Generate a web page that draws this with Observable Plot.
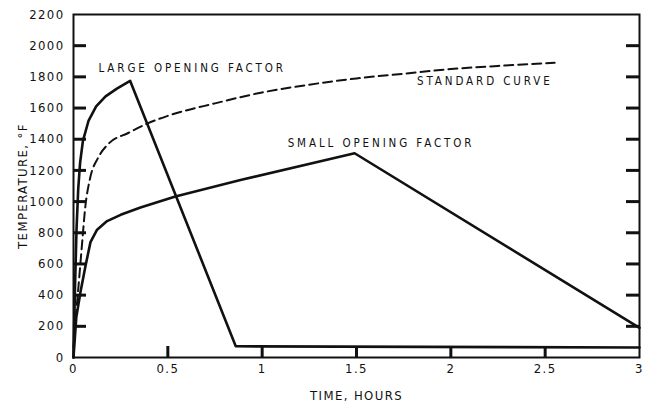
<!DOCTYPE html>
<html>
<head>
<meta charset="utf-8">
<script src="https://cdn.jsdelivr.net/npm/d3@7"></script>
<script src="https://cdn.jsdelivr.net/npm/@observablehq/plot@0.6"></script>
<style>
  html, body { margin: 0; padding: 0; background: #fff; }
  #chart svg { font-family: "DejaVu Sans Condensed", "Liberation Sans Narrow", "DejaVu Sans", sans-serif; }
  #chart svg text { letter-spacing: 1.4px; fill: #111; }
  #chart svg g[aria-label="text"] text { letter-spacing: 2.9px; }
</style>
</head>
<body>
<div id="chart"></div>
<script>
// Time (hours) and temperature (°F) for the three fire curves
const largeTime = [0, 0.008, 0.016, 0.025, 0.035, 0.05, 0.08, 0.12, 0.17, 0.23, 0.3, 0.86, 3];
const largeTemp = [0, 450, 820, 1080, 1250, 1390, 1520, 1610, 1675, 1725, 1775, 72, 64];

const smallTime = [0, 0.015, 0.037, 0.064, 0.09, 0.125, 0.178, 0.25, 0.355, 0.54, 0.885, 1.49, 3];
const smallTemp = [0, 260, 420, 590, 740, 820, 875, 915, 962, 1033, 1138, 1310, 190];

const standardTime = [0, 0.015, 0.026, 0.044, 0.062, 0.088, 0.13, 0.185, 0.29, 0.39, 0.5, 0.75, 1, 1.25, 1.5, 1.75, 2, 2.25, 2.55];
const standardTemp = [68, 300, 450, 710, 960, 1150, 1280, 1370, 1440, 1500, 1550, 1630, 1700, 1750, 1790, 1820, 1850, 1870, 1890];

// Axis ticks
const xTicks = [0, 0.5, 1, 1.5, 2, 2.5, 3];
const xTickLabels = ["0", "0.5", "1", "1.5", "2", "2.5", "3"];
const yTicks = [0, 200, 400, 600, 800, 1000, 1200, 1400, 1600, 1800, 2000, 2200];

// Curve annotations
const labelText = ["LARGE OPENING FACTOR", "STANDARD CURVE", "SMALL OPENING FACTOR"];
const labelTime = [0.132, 2.54, 1.135];
const labelTemp = [1853, 1770, 1372];
const labelAnchor = ["start", "end", "start"];

const toRows = (ts, vs) => ts.map((t, i) => ({t, v: vs[i]}));
const large = toRows(largeTime, largeTemp);
const small = toRows(smallTime, smallTemp);
const standard = toRows(standardTime, standardTemp);
const labels = labelText.map((s, i) => ({s, t: labelTime[i], v: labelTemp[i], a: labelAnchor[i]}));

const W = 649, H = 406, ML = 73, MR = 10, MT = 14, MB = 49;
const innerW = W - ML - MR, innerH = H - MT - MB;
const yTickLen = 13, xTickLen = 11;
// interior tick positions (the ends coincide with the frame)
const tickRowsY = yTicks.slice(1, -1).map((v) => ({v}));
const tickRowsX = xTicks.slice(1, -1).map((t) => ({t}));

const chart = Plot.plot({
  width: W,
  height: H,
  marginLeft: ML,
  marginRight: MR,
  marginTop: MT,
  marginBottom: MB,
  style: {fontSize: "13px", background: "#fff", color: "#111"},
  x: {domain: [0, 3]},
  y: {domain: [0, 2200]},
  marks: [
    Plot.frame({stroke: "#111", strokeWidth: 2, fill: "none"}),
    // tick labels and axis titles
    Plot.axisY({anchor: "left", ticks: yTicks, tickSize: 0, tickPadding: 9,
      tickFormat: (d) => String(d),
      label: "TEMPERATURE, °F", labelAnchor: "center", labelOffset: 56, labelArrow: "none"}),
    Plot.axisX({anchor: "bottom", ticks: xTicks, tickSize: 0, tickPadding: 6,
      tickFormat: (d) => xTickLabels[xTicks.indexOf(d)],
      label: "TIME, HOURS", labelAnchor: "center", labelOffset: 42, labelArrow: "none"}),
    // curves
    Plot.line(standard, {x: "t", y: "v", stroke: "#111", strokeWidth: 2, strokeDasharray: "9,5", curve: "monotone-x"}),
    Plot.line(large, {x: "t", y: "v", stroke: "#111", strokeWidth: 2.6, curve: "linear"}),
    Plot.line(small, {x: "t", y: "v", stroke: "#111", strokeWidth: 2.6, curve: "linear"}),
    Plot.text(labels.filter((d) => d.a === "start"), {x: "t", y: "v", text: "s", textAnchor: "start", fontSize: 11.5, fill: "#111"}),
    Plot.text(labels.filter((d) => d.a === "end"), {x: "t", y: "v", text: "s", textAnchor: "end", fontSize: 11.5, fill: "#111"}),
    // inward tick marks on the left, right and bottom edges
    Plot.tickY(tickRowsY, {y: "v", stroke: "#111", strokeWidth: 3, insetRight: innerW - yTickLen}),
    Plot.tickY(tickRowsY, {y: "v", stroke: "#111", strokeWidth: 3, insetLeft: innerW - yTickLen}),
    Plot.tickX(tickRowsX, {x: "t", stroke: "#111", strokeWidth: 3, insetTop: innerH - xTickLen})
  ]
});
document.getElementById("chart").appendChild(chart);
</script>
</body>
</html>
